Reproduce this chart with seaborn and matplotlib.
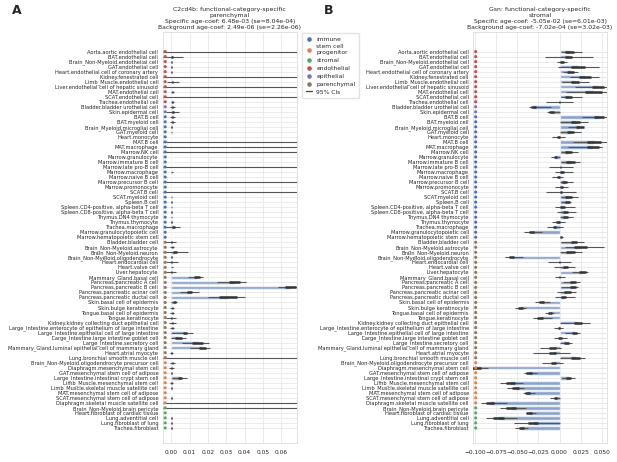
import numpy as np
import pandas as pd
import matplotlib
matplotlib.use('Agg')
import matplotlib.pyplot as plt
import matplotlib.transforms as mtransforms
from matplotlib.lines import Line2D
import seaborn as sns

inf = np.inf

# row labels, top to bottom
cell_types = [
    'Aorta.aortic endothelial cell', 'BAT.endothelial cell', 'Brain_Non-Myeloid.endothelial cell',
    'GAT.endothelial cell', 'Heart.endothelial cell of coronary artery', 'Kidney.fenestrated cell',
    'Limb_Muscle.endothelial cell', 'Liver.endothelial cell of hepatic sinusoid', 'MAT.endothelial cell',
    'SCAT.endothelial cell', 'Trachea.endothelial cell', 'Bladder.bladder urothelial cell',
    'Skin.epidermal cell', 'BAT.B cell', 'BAT.myeloid cell', 'Brain_Myeloid.microglial cell',
    'GAT.myeloid cell', 'Heart.monocyte', 'MAT.B cell', 'MAT.macrophage', 'Marrow.NK cell',
    'Marrow.granulocyte', 'Marrow.immature B cell', 'Marrow.late pro-B cell', 'Marrow.macrophage',
    'Marrow.naive B cell', 'Marrow.precursor B cell', 'Marrow.promonocyte', 'SCAT.B cell',
    'SCAT.myeloid cell', 'Spleen.B cell', 'Spleen.CD4-positive, alpha-beta T cell',
    'Spleen.CD8-positive, alpha-beta T cell', 'Thymus.DN4 thymocyte', 'Thymus.thymocyte',
    'Trachea.macrophage', 'Marrow.granulocytopoietic cell', 'Marrow.hematopoietic stem cell',
    'Bladder.bladder cell', 'Brain_Non-Myeloid.astrocyte', 'Brain_Non-Myeloid.neuron',
    'Brain_Non-Myeloid.oligodendrocyte', 'Heart.endocardial cell', 'Heart.valve cell',
    'Liver.hepatocyte', 'Mammary_Gland.basal cell', 'Pancreas.pancreatic A cell',
    'Pancreas.pancreatic B cell', 'Pancreas.pancreatic acinar cell', 'Pancreas.pancreatic ductal cell',
    'Skin.basal cell of epidermis', 'Skin.bulge keratinocyte', 'Tongue.basal cell of epidermis',
    'Tongue.keratinocyte', 'Kidney.kidney collecting duct epithelial cell',
    'Large_Intestine.enterocyte of epithelium of large intestine',
    'Large_Intestine.epithelial cell of large intestine', 'Large_Intestine.large intestine goblet cell',
    'Large_Intestine.secretory cell', 'Mammary_Gland.luminal epithelial cell of mammary gland',
    'Heart.atrial myocyte', 'Lung.bronchial smooth muscle cell',
    'Brain_Non-Myeloid.oligodendrocyte precursor cell', 'Diaphragm.mesenchymal stem cell',
    'GAT.mesenchymal stem cell of adipose', 'Large_Intestine.intestinal crypt stem cell',
    'Limb_Muscle.mesenchymal stem cell', 'Limb_Muscle.skeletal muscle satellite cell',
    'MAT.mesenchymal stem cell of adipose', 'SCAT.mesenchymal stem cell of adipose',
    'Diaphragm.skeletal muscle satellite cell', 'Brain_Non-Myeloid.brain pericyte',
    'Heart.fibroblast of cardiac tissue', 'Lung.adventitial cell', 'Lung.fibroblast of lung',
    'Trachea.fibroblast',
]

categories = (['endothelial'] * 11 + ['epithelial'] * 2 + ['immune'] * 25
              + ['parenchymal'] * 24 + ['stem cell progenitor'] * 9 + ['stromal'] * 5)

legend_order = ['immune', 'stem cell progenitor', 'stromal', 'endothelial', 'epithelial', 'parenchymal']
legend_labels = ['immune', 'stem cell\nprogenitor', 'stromal', 'endothelial', 'epithelial', 'parenchymal']

# panel A: C2cd4b
a_mean = [0, 0.0005, 0.0002, 0.0002, 0.0001, 0, 0.0008, 0, 0.0005, 0, 0.0008,
          0.0008, 0.001,
          0.0008, 0.0008, 0.0002, 0.0003, 0, 0, 0, 0, 0, 0, 0, 0.0004, 0, 0, 0, 0,
          0.0003, 0.0001, 0.0003, 0.0002, 0.0003, 0.0002, 0.0012, 0, 0,
          0.0003, 0.0005, 0.002, 0.0002, 0.0003, 0.0004, 0.0002, 0.014, 0.0345, 0.065, 0.010, 0.031,
          0.0018, 0.0005, 0.0005, 0.0003, 0.0005, 0.0005, 0.0076, 0.004, 0.0145, 0.017, 0.0003, 0,
          0.0006, 0.0004, 0.0002, 0.0049, 0.0003, 0.0002, 0, 0.0002, 0,
          0, 0, 0.0002, 0.0002, 0.0002]
a_se = [0, 0.0004, 0.0002, 0.0002, 0.0001, 0, 0.0004, 0, 0.0003, 0, 0.0003,
        0.0004, 0.0005,
        0.0004, 0.0004, 0.0001, 0.0001, 0, 0, 0, 0, 0, 0, 0, 0.0002, 0, 0, 0, 0,
        0.0001, 0.0001, 0.0001, 0.0001, 0.0001, 0.0001, 0.0007, 0, 0,
        0.0003, 0.0003, 0.001, 0.0001, 0.0003, 0.0002, 0.0002, 0.0015, 0.003, 0.003, 0.0015, 0.005,
        0.0006, 0.0003, 0.0003, 0.0003, 0.0003, 0.0003, 0.0012, 0.0018, 0.003, 0.002, 0.0003, 0,
        0.0003, 0.0003, 0.0001, 0.0012, 0.0002, 0.0001, 0, 0.0001, 0,
        0, 0, 0.0001, 0.0001, 0.0001]
a_ci_lo = [-inf, -0.006, -0.0002, -0.0002, -0.0002, -inf, -0.002, -inf, -0.0003, -inf, -0.0002,
           -0.0004, -0.003,
           -0.0005, -0.0005, -0.0001, 0.0001, -0.0001, -inf, -inf, -inf, 0, 0, -inf, 0.0001, 0, -inf, 0, -inf,
           0.0001, 0, 0.0001, 0.0001, 0.0001, 0, -0.004, 0, 0,
           -0.0035, -0.0005, -0.005, 0, -0.003, 0, -0.004, 0.009, 0.025, 0.058, 0.005, 0.020,
           0.0, -0.0008, -0.0008, -0.003, -0.001, -0.0008, 0.0, 0.0, 0.006, 0.010, -0.0006, -inf,
           -0.0007, -0.0012, 0, 0.0005, -0.0005, 0, 0, 0, -inf,
           -inf, 0, 0, 0, 0]
a_ci_hi = [inf, 0.0067, 0.0006, 0.0006, 0.0004, inf, 0.0043, inf, 0.0013, inf, 0.0018,
           0.002, 0.0045,
           0.002, 0.002, 0.0005, 0.0005, 0.0001, inf, inf, inf, 0, 0, inf, 0.0008, 0, inf, 0, inf,
           0.0006, 0.0002, 0.0006, 0.0005, 0.0006, 0.0004, 0.005, 0, 0,
           0.0025, 0.0017, 0.009, 0.0004, 0.0035, 0.001, 0.0025, 0.0175, 0.041, 0.072, 0.015, 0.040,
           0.0033, 0.0018, 0.0017, 0.0028, 0.0028, 0.0018, 0.012, 0.008, 0.0207, 0.021, 0.0012, inf,
           0.002, 0.0015, 0.0004, 0.0085, 0.0009, 0.0004, 0, 0.0005, inf,
           inf, 0, 0.0004, 0.0004, 0.0005]

# panel B: Gsn
b_mean = [0.012, 0.011, 0.003, 0.022, 0.013, 0.030, 0.018, 0.045, 0.040, 0.011, 0.0,
          -0.031, -0.009,
          0.047, 0.019, 0.024, 0.013, -0.001, 0.041, 0.039, 0.011, -0.0048, 0.013, 0.001, 0.003,
          -0.001, 0.006, 0.002, 0.002, 0.011, 0.009, 0.004, 0.007, 0.007, -0.002, -0.006, -0.033, 0.002,
          0.017, 0.025, 0.013, -0.0565, 0.0, 0.007, 0.027, 0.0, 0.016, 0.016, 0.009, 0.005,
          -0.021, -0.046, -0.0112, -0.023, 0.022, -0.0005, 0.018, 0.0005, 0.008, -0.008, -0.008, 0.019,
          -0.007, -0.099, -0.036, 0.011, -0.058, -0.052, -0.038, -0.005, -0.082,
          -0.057, -0.036, -0.072, -0.031, -0.045]
b_se = [0.005, 0.004, 0.002, 0.008, 0.004, 0.007, 0.005, 0.007, 0.010, 0.004, 0.001,
        0.003, 0.003,
        0.006, 0.005, 0.005, 0.004, 0.002, 0.008, 0.007, 0.004, 0.002, 0.005, 0.001, 0.002,
        0.002, 0.003, 0.002, 0.001, 0.004, 0.003, 0.003, 0.003, 0.003, 0.002, 0.002, 0.003, 0.001,
        0.004, 0.008, 0.005, 0.003, 0.001, 0.003, 0.004, 0.001, 0.004, 0.004, 0.004, 0.003,
        0.003, 0.003, 0.0025, 0.003, 0.005, 0.001, 0.003, 0.002, 0.003, 0.004, 0.004, 0.005,
        0.003, 0.006, 0.003, 0.003, 0.005, 0.004, 0.003, 0.002, 0.005,
        0.006, 0.003, 0.007, 0.006, 0.003]
b_ci_lo = [0.002, -0.017, -0.0026, -0.0014, 0.004, 0.012, 0.0026, 0.018, 0.008, 0.002, -0.016,
           -0.0356, -0.015,
           0.026, 0.001, 0.010, 0.001, -0.0085, 0.016, 0.010, 0.002, -0.0104, 0.002, -0.012, -0.005,
           -0.0085, 0.0, -0.005, -0.016, 0.002, 0.002, -0.005, -0.003, 0.0, -0.009, -0.015, -0.042, 0.0,
           0.0014, 0.006, 0.001, -0.064, -0.013, -0.007, 0.015, -0.005, 0.004, 0.002, -0.003, -0.005,
           -0.029, -0.0526, -0.017, -0.031, 0.001, -0.006, 0.006, -0.007, 0.0, -0.023, -0.031, 0.001,
           -0.021, -0.115, -0.042, 0.003, -0.070, -0.062, -0.043, -0.011, -0.092,
           -0.070, -0.040, -0.087, -0.054, -0.053]
b_ci_hi = [0.026, 0.040, 0.0085, 0.047, 0.022, 0.047, 0.035, 0.060, 0.056, 0.026, 0.016,
           -0.010, 0.0005,
           0.057, 0.034, 0.028, 0.025, 0.0065, 0.060, 0.050, 0.022, 0.0006, 0.024, 0.0156, 0.016,
           0.004, 0.016, 0.010, 0.020, 0.022, 0.014, 0.018, 0.019, 0.0156, 0.0065, 0.004, -0.021, 0.0045,
           0.029, 0.052, 0.026, -0.043, 0.014, 0.018, 0.034, 0.0065, 0.024, 0.022, 0.020, 0.018,
           -0.011, -0.039, -0.007, -0.009, 0.036, 0.0045, 0.024, 0.0085, 0.0144, 0.0014, 0.012, 0.030,
           0.0045, -0.084, -0.026, 0.018, -0.043, -0.042, -0.029, 0.0006, -0.062,
           -0.039, -0.028, -0.050, 0.0, -0.037]

a_title = ('C2cd4b: functional-category-specific\nparenchymal\n'
           'Specific age-coef: 6.48e-03 (se=8.04e-04)\nBackground age-coef: 2.49e-06 (se=2.26e-06)')
b_title = ('Gsn: functional-category-specific\nstromal\n'
           'Specific age-coef: -5.05e-02 (se=6.01e-03)\nBackground age-coef: -7.02e-04 (se=3.02e-03)')
a_ticks = [0.00, 0.01, 0.02, 0.03, 0.04, 0.05, 0.06]
b_ticks = [-0.100, -0.075, -0.050, -0.025, 0.000, 0.025, 0.050]

sns.set_theme(style='whitegrid')
plt.rcParams['font.family'] = ['DejaVu Sans']
plt.rcParams['grid.linewidth'] = 0.5
plt.rcParams['grid.color'] = '#e3e3e3'

palette = dict(zip(legend_order, sns.color_palette('deep', 6)))
bar_color = '#4C72B0'


def draw_panel(ax, mean, se, lo, hi, title, ticks, xlim, labels):
    df = pd.DataFrame({'cell': cell_types, 'mean': mean, 'se': se, 'cat': categories})
    sns.barplot(data=df, x='mean', y='cell', order=cell_types, orient='h', ax=ax,
                color=bar_color, alpha=0.6, saturation=1, width=0.7, errorbar=None)
    pos = np.arange(len(df))
    # unbounded intervals run off both edges of the axes
    lo_c = np.clip(np.asarray(lo, dtype=float), xlim[0], xlim[1])
    hi_c = np.clip(np.asarray(hi, dtype=float), xlim[0], xlim[1])
    m = np.asarray(mean, dtype=float)
    s = np.asarray(se, dtype=float)
    for i in range(len(pos)):
        ax.plot([lo_c[i], hi_c[i]], [pos[i], pos[i]], color='#555555', lw=0.8, zorder=3,
                solid_capstyle='butt')
        if s[i] > 0:
            ax.plot([m[i] - s[i], m[i] + s[i]], [pos[i], pos[i]], color='#333333', lw=1.8,
                    zorder=4, solid_capstyle='butt')
    trans = mtransforms.blended_transform_factory(ax.transAxes, ax.transData)
    ax.scatter(np.full(len(df), 0.02), pos, transform=trans, s=5, lw=0,
               c=[palette[c] for c in df['cat']], zorder=5, clip_on=False)
    ax.set_xlim(*xlim)
    ax.set_ylim(len(df) - 1 + 3, -3.9)
    ax.set_xticks(ticks)
    ax.set_xticklabels(labels)
    ax.yaxis.grid(True)
    ax.xaxis.grid(True)
    ax.set_xlabel('')
    ax.set_ylabel('')
    ax.tick_params(axis='y', labelsize=3.7, length=0, pad=3)
    ax.tick_params(axis='x', labelsize=4.2, length=0, pad=5)
    for sp in ax.spines.values():
        sp.set_color('#dddddd')
        sp.set_linewidth(0.6)
    ax.set_title(title, fontsize=4.4, pad=2.5, linespacing=1.25)


fig = plt.figure(figsize=(6.17, 4.62), dpi=100)
ax_a = fig.add_axes([162.5 / 617, 19 / 462, 134.5 / 617, 411 / 462])
ax_b = fig.add_axes([473 / 617, 19 / 462, 134 / 617, 411 / 462])

draw_panel(ax_a, a_mean, a_se, a_ci_lo, a_ci_hi, a_title, a_ticks, (-0.0047, 0.0685),
           ['{:.2f}'.format(t) for t in a_ticks])
draw_panel(ax_b, b_mean, b_se, b_ci_lo, b_ci_hi, b_title, b_ticks, (-0.102, 0.056),
           ['\u2212{:.3f}'.format(-t) if t < 0 else '{:.3f}'.format(t) for t in b_ticks])

handles = [Line2D([0], [0], marker='o', ls='', color=palette[c], markersize=2.3) for c in legend_order]
handles.append(Line2D([0], [0], color='#444444', lw=0.9))
fig.legend(handles, legend_labels + ['95% CIs'], loc='upper left',
           bbox_to_anchor=(299 / 617, 1 - 30 / 462), fontsize=4.3, frameon=True,
           handlelength=1.0, handletextpad=0.8, borderpad=0.6, labelspacing=0.45,
           edgecolor='#dddddd', fancybox=False)

fig.text(12 / 617, 1 - 11 / 462, 'A', fontsize=9, fontweight='bold', va='center')
fig.text(324 / 617, 1 - 11 / 462, 'B', fontsize=9, fontweight='bold', va='center')

fig.savefig('out.png', dpi=100)
